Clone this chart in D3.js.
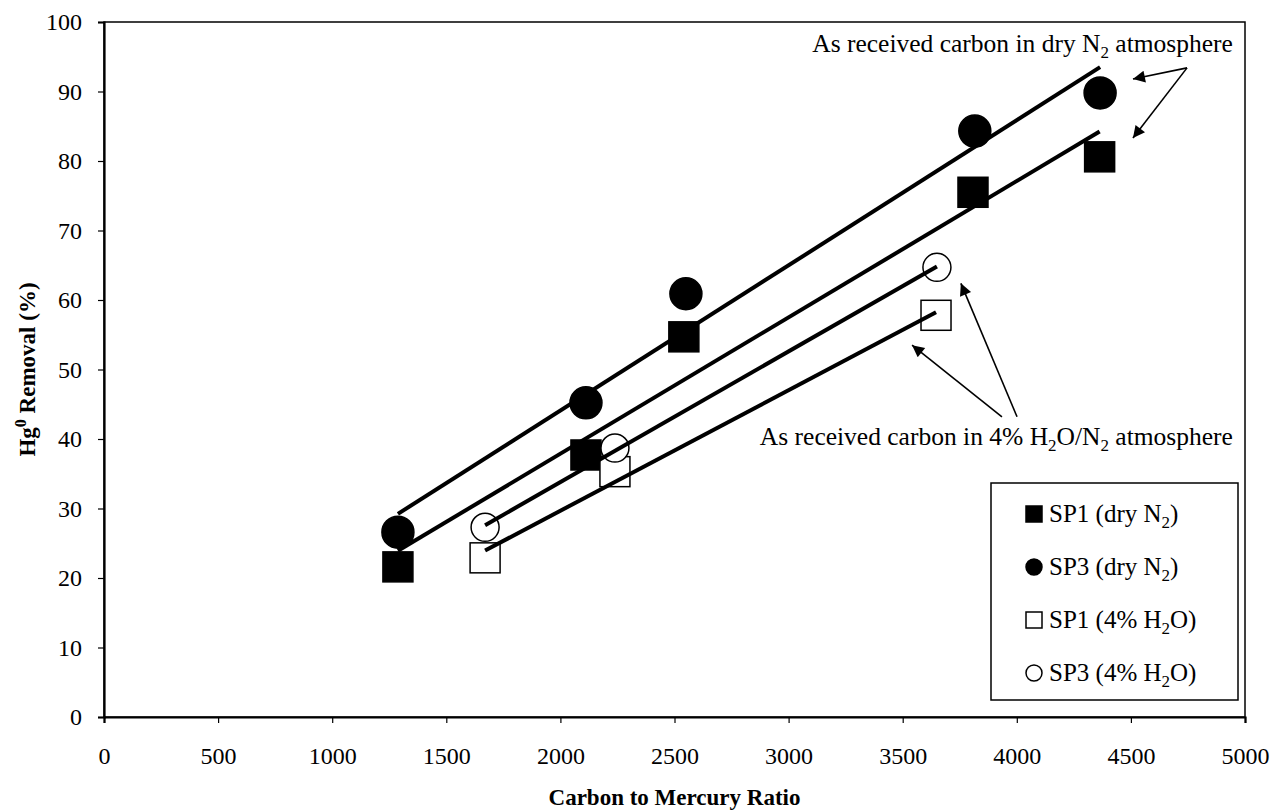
<!DOCTYPE html>
<html>
<head>
<meta charset="utf-8">
<script src="https://cdn.jsdelivr.net/npm/d3@7"></script>
<style>
    body { margin: 0; background: #fff; }
    svg { display: block; font-family: "Liberation Serif", "Times New Roman", serif; }
</style>
</head>
<body>
<script>
// values
var sp1DryX = [1288, 2112, 2541, 3808, 4363];
var sp1DryY = [21.6, 37.7, 54.7, 75.5, 80.6];
var sp3DryX = [1288, 2112, 2550, 3816, 4365];
var sp3DryY = [26.6, 45.2, 60.9, 84.3, 89.8];
var sp1WetX = [1670, 2239, 3646];
var sp1WetY = [22.9, 35.3, 57.8];
var sp3WetX = [1670, 2239, 3650];
var sp3WetY = [27.3, 38.7, 64.7];

var xTicks = [0, 500, 1000, 1500, 2000, 2500, 3000, 3500, 4000, 4500, 5000];
var yTicks = [0, 10, 20, 30, 40, 50, 60, 70, 80, 90, 100];

var width = 1274, height = 811;
var plotLeft = 104, plotRight = 1245, plotTop = 22, plotBottom = 717;

var x = d3.scaleLinear().domain([0, 5000]).range([plotLeft, plotRight]);
var y = d3.scaleLinear().domain([0, 100]).range([plotBottom, plotTop]);

var svg = d3.select("body").append("svg")
    .attr("width", width)
    .attr("height", height);

svg.append("defs").append("marker")
    .attr("id", "head")
    .attr("viewBox", "0 0 10 10")
    .attr("refX", 10)
    .attr("refY", 5)
    .attr("markerWidth", 16)
    .attr("markerHeight", 12)
    .attr("markerUnits", "userSpaceOnUse")
    .attr("orient", "auto")
    .append("path")
    .attr("d", "M0,0 L10,5 L0,10 z")
    .attr("fill", "#000");

// frame
svg.append("rect")
    .attr("x", plotLeft).attr("y", plotTop)
    .attr("width", plotRight - plotLeft).attr("height", plotBottom - plotTop)
    .attr("fill", "none").attr("stroke", "#000").attr("stroke-width", 1.5);

var xAxis = svg.append("g")
    .attr("transform", "translate(0," + plotBottom + ")")
    .call(d3.axisBottom(x).tickValues(xTicks).tickSize(6).tickPadding(24).tickFormat(d3.format("d")));
var yAxis = svg.append("g")
    .attr("transform", "translate(" + plotLeft + ",0)")
    .call(d3.axisLeft(y).tickValues(yTicks).tickSize(6).tickPadding(16).tickFormat(d3.format("d")));

[xAxis, yAxis].forEach(function(a) {
    a.select(".domain").attr("stroke", "#000").attr("stroke-width", 2.2);
    a.selectAll(".tick line").attr("stroke", "#000").attr("stroke-width", 1.2);
    a.selectAll(".tick text")
        .attr("fill", "#000")
        .style("font-family", "Liberation Serif, Times New Roman, serif")
        .style("font-size", "24px");
});

// trend lines (least squares fit over each series)
function fit(xs, ys) {
    var mx = d3.mean(xs), my = d3.mean(ys);
    var sxy = 0, sxx = 0;
    xs.forEach(function(v, i) {
        sxy += (v - mx) * (ys[i] - my);
        sxx += (v - mx) * (v - mx);
    });
    var b = sxy / sxx;
    var a = my - b * mx;
    var x0 = d3.min(xs), x1 = d3.max(xs);
    return [[x0, a + b * x0], [x1, a + b * x1]];
}

var line = d3.line()
    .x(function(d) { return x(d[0]); })
    .y(function(d) { return y(d[1]); });

var series = [
    { xs: sp1DryX, ys: sp1DryY, shape: "square", fill: "#000" },
    { xs: sp3DryX, ys: sp3DryY, shape: "circle", fill: "#000" },
    { xs: sp1WetX, ys: sp1WetY, shape: "square", fill: "none" },
    { xs: sp3WetX, ys: sp3WetY, shape: "circle", fill: "none" }
];

function drawMarks(s) {
    var pts = s.xs.map(function(v, i) { return [v, s.ys[i]]; });
    if (s.shape == "square") {
        svg.append("g").selectAll("rect")
            .data(pts).enter().append("rect")
            .attr("x", function(d) { return x(d[0]) - 15; })
            .attr("y", function(d) { return y(d[1]) - 15; })
            .attr("width", 30).attr("height", 30)
            .attr("fill", s.fill == "none" ? "#fff" : "#000")
            .attr("stroke", "#000").attr("stroke-width", 1.5);
    } else {
        svg.append("g").selectAll("circle")
            .data(pts).enter().append("circle")
            .attr("cx", function(d) { return x(d[0]); })
            .attr("cy", function(d) { return y(d[1]); })
            .attr("r", s.fill == "none" ? 14 : 16)
            .attr("fill", s.fill == "none" ? "#fff" : "#000")
            .attr("stroke", "#000").attr("stroke-width", 1.5);
    }
}

series.forEach(drawMarks);

series.forEach(function(s) {
    svg.append("path")
        .attr("d", line(fit(s.xs, s.ys)))
        .attr("fill", "none")
        .attr("stroke", "#000")
        .attr("stroke-width", 4);
});

// text with sub/superscripts: the shift is undone on the next piece
function label(g, parts, size) {
    var back = 0;
    parts.forEach(function(p) {
        var t = g.append("tspan");
        if (p.sub) {
            t.attr("dy", back + 6).style("font-size", Math.round(size * 0.68) + "px").text(p.sub);
            back = -6;
        } else if (p.sup) {
            t.attr("dy", back - 9).style("font-size", Math.round(size * 0.68) + "px").text(p.sup);
            back = 9;
        } else {
            if (back) t.attr("dy", back);
            t.text(p.t);
            back = 0;
        }
    });
}

var note1 = svg.append("text")
    .attr("x", x(4947)).attr("y", y(95.7))
    .attr("text-anchor", "end")
    .style("font-size", "25.5px");
label(note1, [{ t: "As received carbon in dry N" }, { sub: "2" }, { t: " atmosphere" }], 25.5);

var note2 = svg.append("text")
    .attr("x", x(4947)).attr("y", y(39.1))
    .attr("text-anchor", "end")
    .style("font-size", "25.5px");
label(note2, [{ t: "As received carbon in 4% H" }, { sub: "2" }, { t: "O/N" }, { sub: "2" }, { t: " atmosphere" }], 25.5);

var arrows = [
    [[4746, 93.4], [4509, 91.8]],
    [[4746, 93.4], [4509, 83.3]],
    [[3935, 43.2], [3541, 53.5]],
    [[4001, 43.2], [3755, 62.4]]
];
svg.append("g").selectAll("path")
    .data(arrows).enter().append("path")
    .attr("d", function(d) { return line(d); })
    .attr("stroke", "#000")
    .attr("stroke-width", 1.6)
    .attr("fill", "none")
    .attr("marker-end", "url(#head)");

// legend
var legend = svg.append("g").attr("transform", "translate(991,483)");
legend.append("rect")
    .attr("width", 247).attr("height", 217)
    .attr("fill", "#fff").attr("stroke", "#000").attr("stroke-width", 1.5);

var legendNames = [
    [{ t: "SP1 (dry N" }, { sub: "2" }, { t: ")" }],
    [{ t: "SP3 (dry N" }, { sub: "2" }, { t: ")" }],
    [{ t: "SP1 (4% H" }, { sub: "2" }, { t: "O)" }],
    [{ t: "SP3 (4% H" }, { sub: "2" }, { t: "O)" }]
];

legendNames.forEach(function(parts, i) {
    var s = series[i];
    var cy = 31 + i * 53;
    if (s.shape == "square") {
        legend.append("rect")
            .attr("x", 35).attr("y", cy - 8)
            .attr("width", 16).attr("height", 16)
            .attr("fill", s.fill == "none" ? "#fff" : "#000")
            .attr("stroke", "#000").attr("stroke-width", 1.5);
    } else {
        legend.append("circle")
            .attr("cx", 43).attr("cy", cy)
            .attr("r", 8)
            .attr("fill", s.fill == "none" ? "#fff" : "#000")
            .attr("stroke", "#000").attr("stroke-width", 1.5);
    }
    var t = legend.append("text")
        .attr("x", 58).attr("y", cy + 8)
        .style("font-size", "25px");
    label(t, parts, 25);
});

// axis titles
svg.append("text")
    .attr("x", (plotLeft + plotRight) / 2).attr("y", 805)
    .attr("text-anchor", "middle")
    .style("font-size", "23px")
    .style("font-weight", "bold")
    .text("Carbon to Mercury Ratio");

var yTitle = svg.append("text")
    .attr("transform", "translate(35," + ((plotTop + plotBottom) / 2) + ") rotate(-90)")
    .attr("text-anchor", "middle")
    .style("font-size", "23px")
    .style("font-weight", "bold");
label(yTitle, [{ t: "Hg" }, { sup: "0" }, { t: " Removal (%)" }], 23);
</script>
</body>
</html>
